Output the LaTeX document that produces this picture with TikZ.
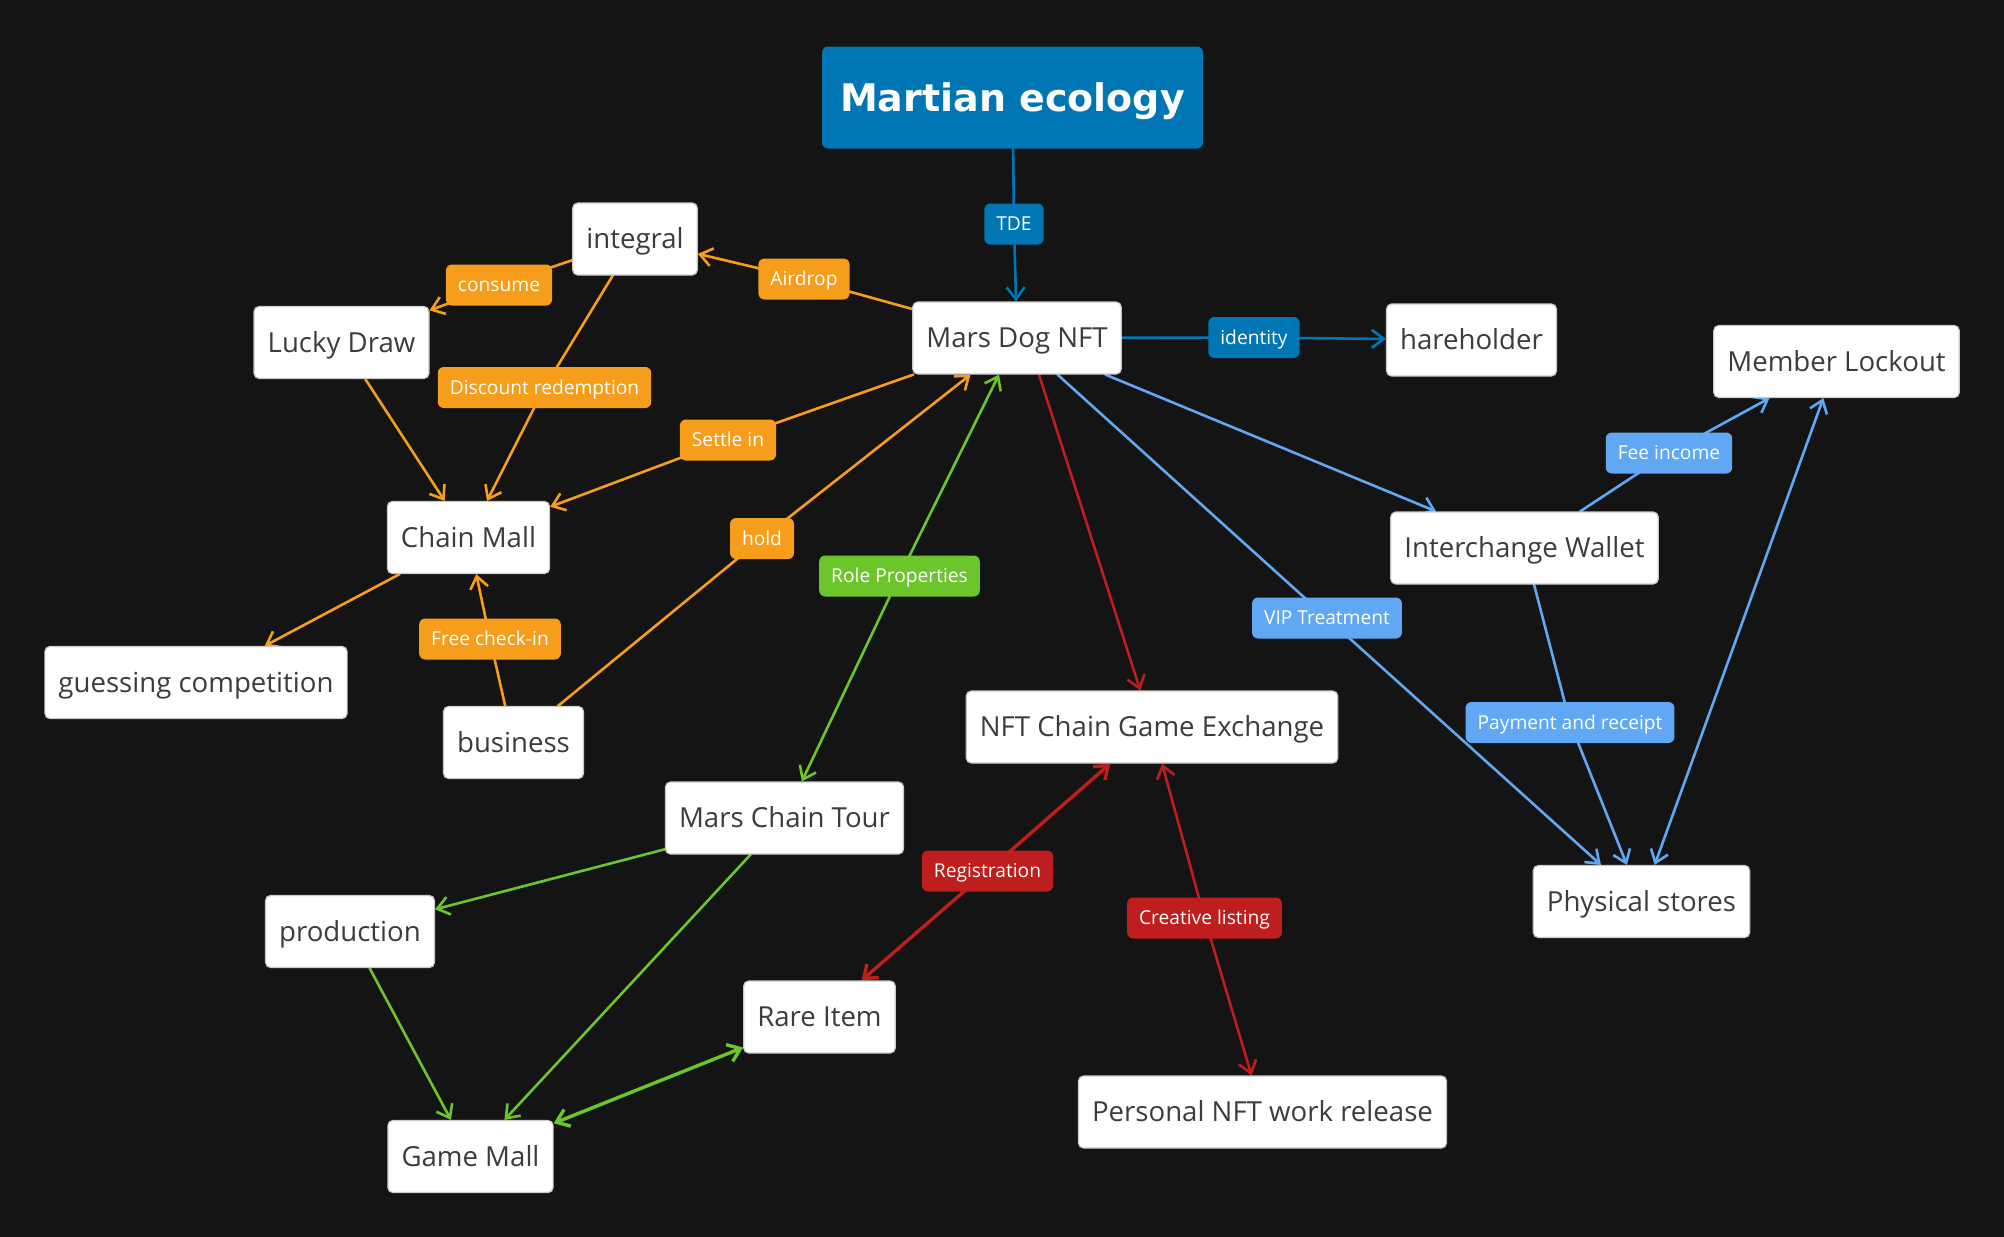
\documentclass[tikz,border=0pt]{standalone}
\usepackage{fontspec}
\setmainfont{Open Sans}
\newfontfamily\titlefont{DejaVu Sans}
\usetikzlibrary{arrows.meta}
\usetikzlibrary{backgrounds}
\definecolor{bgblack}{RGB}{20,20,20}
\definecolor{deepblue}{RGB}{0,118,180}
\definecolor{morange}{RGB}{246,158,28}
\definecolor{mgreen}{RGB}{108,198,43}
\definecolor{mred}{RGB}{190,30,30}
\definecolor{skyblue}{RGB}{96,168,243}
\definecolor{boxtext}{RGB}{60,60,60}
\definecolor{boxline}{RGB}{200,200,200}

\begin{document}
\begin{tikzpicture}[x=0.5pt,y=-0.5pt,>={Straight Barb[length=6pt,width=9pt]},
	box/.style={draw=boxline,line width=0.6pt,fill=white,rounded corners=2.5pt,text=boxtext,font=\fontsize{13.8}{16}\selectfont,minimum height=36pt,inner xsep=6.8pt,text height=11pt,text depth=1.2pt},
	tag/.style={fill=#1,rounded corners=3pt,text=white,font=\fontsize{9.6}{11}\selectfont,minimum height=20.5pt,inner xsep=6pt,text height=8pt,text depth=1.2pt},
	link/.style={draw=#1,line width=1.3pt,line cap=round,line join=round}]
	\useasboundingbox (0,0) rectangle (2004,1237);
	\node[fill=deepblue,rounded corners=3pt,text=white,font=\titlefont\bfseries\fontsize{19}{22}\selectfont,minimum width=190.5pt,minimum height=51pt,text height=15pt,text depth=1.2pt] (title) at (1012.5,97.5) {Martian ecology};
	\node[box] (mdn) at (1017,338) {Mars Dog NFT};
	\node[box] (integral) at (635,239) {integral};
	\node[box] (lucky) at (341.5,342.5) {Lucky Draw};
	\node[box] (mall) at (468.5,537.5) {Chain Mall};
	\node[box] (guess) at (196,682.5) {guessing competition};
	\node[box] (business) at (513.5,742.5) {business};
	\node[box] (holder) at (1471.5,340) {hareholder};
	\node[box] (lockout) at (1836.5,361.5) {Member Lockout};
	\node[box] (wallet) at (1524.5,548) {Interchange Wallet};
	\node[box] (stores) at (1641.5,901.5) {Physical stores};
	\node[box] (exchange) at (1152,727) {NFT Chain Game Exchange};
	\node[box] (release) at (1262.5,1112) {Personal NFT work release};
	\node[box] (rare) at (819.5,1017) {Rare Item};
	\node[box] (tour) at (784.5,818) {Mars Chain Tour};
	\node[box] (production) at (350,931.5) {production};
	\node[box] (gamemall) at (470.5,1156.5) {Game Mall};

	\node[tag=deepblue] (tde) at (1014,224) {TDE};
	\node[tag=deepblue] (identity) at (1254,337.5) {identity};
	\node[tag=morange] (airdrop) at (804,279) {Airdrop};
	\node[tag=morange] (consume) at (499,285) {consume};
	\node[tag=morange] (discount) at (544.5,387.5) {Discount redemption};
	\node[tag=morange] (settle) at (728,440) {Settle in};
	\node[tag=morange] (hold) at (762,538.5) {hold};
	\node[tag=morange] (checkin) at (490,639) {Free check-in};
	\node[tag=mgreen] (role) at (899.5,576) {Role Properties};
	\node[tag=skyblue] (fee) at (1669,453) {Fee income};
	\node[tag=skyblue] (vip) at (1327,618) {VIP Treatment};
	\node[tag=skyblue] (payment) at (1570,722.5) {Payment and receipt};
	\node[tag=mred] (registration) at (987.5,871) {Registration};
	\node[tag=mred] (creative) at (1204.5,918) {Creative listing};

	\begin{pgfonlayer}{background}
		\fill[bgblack] (0,0) rectangle (2004,1237);
		\draw[link=deepblue,->] (title) -- (tde.center) -- (mdn);
		\draw[link=deepblue,->] (mdn) -- (identity.center) -- (holder);
		\draw[link=morange,->] (mdn) -- (airdrop.center) -- (integral);
		\draw[link=morange,->] (integral) -- (consume.center) -- (lucky);
		\draw[link=morange,->] (integral) -- (discount.center) -- (mall);
		\draw[link=morange,->] (lucky) -- (mall);
		\draw[link=morange,->] (mdn) -- (settle.center) -- (mall);
		\draw[link=morange,->] (business) -- (hold.center) -- (mdn);
		\draw[link=morange,->] (business) -- (checkin.center) -- (mall);
		\draw[link=morange,->] (mall) -- (guess);
		\draw[link=mgreen,<->] (mdn) -- (role.center) -- (tour);
		\draw[link=mgreen,->] (tour) -- (production);
		\draw[link=mgreen,->] (tour) -- (gamemall);
		\draw[link=mgreen,->] (production) -- (gamemall);
		\draw[link=mgreen,line width=1.7pt,<->] (gamemall) -- (rare);
		\draw[link=mred,->] ([xshift=11pt]mdn.south) -- (exchange);
		\draw[link=mred,line width=1.7pt,<->] (exchange) -- (registration.center) -- (rare);
		\draw[link=mred,<->] (exchange) -- (creative.center) -- (release);
		\draw[link=skyblue,->] (mdn) -- (wallet);
		\draw[link=skyblue,->] (mdn) -- (vip.center) -- (stores);
		\draw[link=skyblue,->] (wallet) -- (fee.center) -- (lockout);
		\draw[link=skyblue,->] (wallet) -- (payment.center) -- (stores);
		\draw[link=skyblue,<->] (lockout) -- (stores);
	\end{pgfonlayer}
\end{tikzpicture}
\end{document}
